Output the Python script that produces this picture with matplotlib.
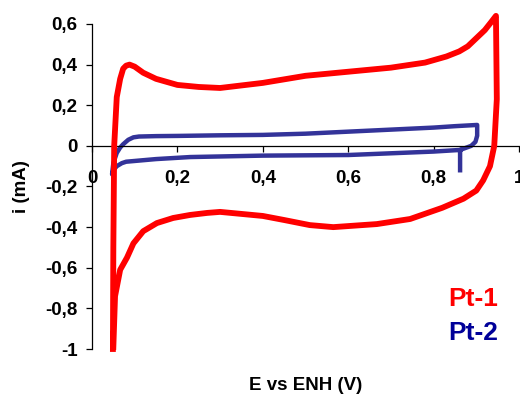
import numpy as np
import matplotlib
matplotlib.use("Agg")
import matplotlib.pyplot as plt

plt.rcParams["font.family"] = ["Liberation Sans", "DejaVu Sans"]
plt.rcParams["font.weight"] = "bold"

# ── 데이터 ─────────────────────────────────────────
# Pt-1 : E (V vs ENH), i (mA)
pt1_e = [0.049, 0.050, 0.052, 0.058, 0.066, 0.073, 0.080, 0.088, 0.100, 0.120,
         0.150, 0.200, 0.250, 0.300, 0.400, 0.500, 0.600, 0.700, 0.780, 0.830,
         0.860, 0.880, 0.900, 0.920, 0.935, 0.946, 0.948, 0.942, 0.932, 0.916,
         0.900, 0.870, 0.820, 0.745, 0.667, 0.565, 0.510, 0.450, 0.400, 0.300,
         0.270, 0.230, 0.190, 0.152, 0.120, 0.097, 0.082, 0.066, 0.054, 0.050]
pt1_i = [-1.00, -0.50, 0.00, 0.24, 0.33, 0.38, 0.395, 0.40, 0.39, 0.36,
         0.33, 0.30, 0.29, 0.285, 0.31, 0.345, 0.365, 0.385, 0.41, 0.44,
         0.465, 0.49, 0.53, 0.57, 0.61, 0.64, 0.23, 0.00, -0.10, -0.17,
         -0.22, -0.26, -0.305, -0.36, -0.385, -0.40, -0.39, -0.365, -0.345, -0.325,
         -0.33, -0.34, -0.355, -0.38, -0.42, -0.48, -0.55, -0.61, -0.74, -0.99]

# Pt-2
pt2_e = [0.862, 0.862, 0.875, 0.888, 0.898, 0.902, 0.902, 0.850, 0.800, 0.700,
         0.600, 0.500, 0.400, 0.300, 0.200, 0.150, 0.110, 0.097, 0.085, 0.073,
         0.066, 0.058, 0.050, 0.047, 0.050, 0.058, 0.070, 0.080, 0.150, 0.230,
         0.400, 0.600, 0.800, 0.862]
pt2_i = [-0.12, -0.02, -0.01, 0.00, 0.02, 0.05, 0.103, 0.097, 0.090, 0.080,
         0.070, 0.060, 0.054, 0.052, 0.049, 0.048, 0.046, 0.042, 0.030, 0.008,
         -0.008, -0.035, -0.085, -0.14, -0.12, -0.10, -0.085, -0.078, -0.065, -0.055,
         -0.048, -0.045, -0.028, -0.02]

xticks = [0, 0.2, 0.4, 0.6, 0.8, 1.0]
xtick_lbl = ["0", "0,2", "0,4", "0,6", "0,8", "1"]
yticks = [0.6, 0.4, 0.2, 0, -0.2, -0.4, -0.6, -0.8, -1.0]
ytick_lbl = ["0,6", "0,4", "0,2", "0", "-0,2", "-0,4", "-0,6", "-0,8", "-1"]

RED, BLUE, NAVY = "#ff0000", "#333399", "#000099"

# ── 그래프 ───────────────────────────────────────────────
fig = plt.figure(figsize=(5.2, 3.94), dpi=100)
ax = fig.add_axes([0.1769, 0.1142, 0.8212, 0.8249])

ax.plot(pt1_e, pt1_i, color=RED, lw=4.2, solid_joinstyle="round", clip_on=False, zorder=3)
ax.plot(pt2_e, pt2_i, color=BLUE, lw=3.2, solid_joinstyle="round", clip_on=False, zorder=2)

ax.set_xlim(0, 1); ax.set_ylim(-1, 0.6)
for s in ("top", "right"):
    ax.spines[s].set_visible(False)
ax.spines["bottom"].set_position(("data", 0))
ax.spines["left"].set_position(("data", 0))
for s in ("bottom", "left"):
    ax.spines[s].set_linewidth(0.9)

ax.set_xticks(xticks, xtick_lbl)
ax.set_yticks(yticks, ytick_lbl)
ax.tick_params(axis="x", direction="out", length=4.5, width=0.9, pad=13, labelsize=13.5)
ax.tick_params(axis="y", direction="out", length=4.5, width=0.9, pad=6, labelsize=13.5)

ax.set_xlabel("E vs ENH (V)", fontsize=13.5, fontweight="bold", va="baseline")
ax.xaxis.set_label_coords(0.5, -0.126)
ax.set_ylabel("i (mA)", fontsize=13.5, fontweight="bold")
ax.yaxis.set_label_coords(-0.145, 0.5)

fig.text(448/520, 1-306/394, "Pt-1", color=RED, fontsize=19, fontweight="bold", va="baseline")
fig.text(448/520, 1-340/394, "Pt-2", color=NAVY, fontsize=19, fontweight="bold", va="baseline")

fig.savefig("out.png", dpi=100)
